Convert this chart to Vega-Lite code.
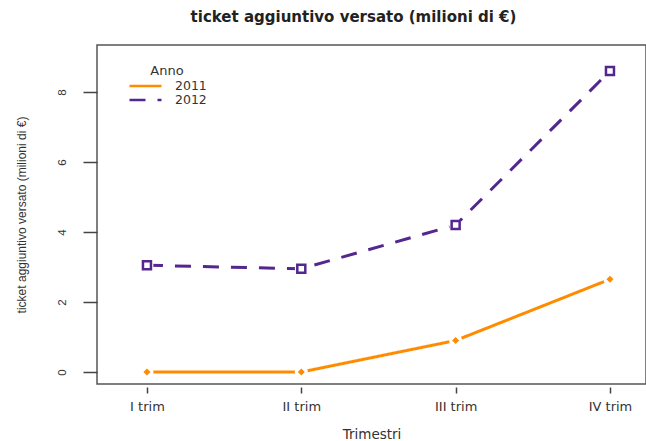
{
  "$schema": "https://vega.github.io/schema/vega-lite/v6.json",
  "width": 549,
  "height": 339,
  "autosize": {"type": "none"},
  "padding": {"left": 97, "top": 45, "right": 0, "bottom": 57},
  "background": "white",
  "title": {
    "text": "ticket aggiuntivo versato (milioni di €)",
    "anchor": "middle",
    "dx": -18,
    "offset": 20,
    "font": "DejaVu Sans",
    "fontSize": 15,
    "fontWeight": "bold",
    "color": "#222"
  },
  "config": {
    "view": {"stroke": "#555", "strokeWidth": 1.5},
    "font": "DejaVu Sans"
  },
  "data": {
    "values": [
      {"Trimestre": "I trim", "Anno": "2011", "valore": 0.0},
      {"Trimestre": "II trim", "Anno": "2011", "valore": 0.0},
      {"Trimestre": "III trim", "Anno": "2011", "valore": 0.9},
      {"Trimestre": "IV trim", "Anno": "2011", "valore": 2.65},
      {"Trimestre": "I trim", "Anno": "2012", "valore": 3.05},
      {"Trimestre": "II trim", "Anno": "2012", "valore": 2.95},
      {"Trimestre": "III trim", "Anno": "2012", "valore": 4.2},
      {"Trimestre": "IV trim", "Anno": "2012", "valore": 8.6}
    ]
  },
  "encoding": {
    "x": {
      "field": "Trimestre",
      "type": "nominal",
      "sort": ["I trim", "II trim", "III trim", "IV trim"],
      "scale": {"type": "point", "padding": 0.2786, "align": 0.581},
      "axis": {
        "title": "Trimestri",
        "labelAngle": 0,
        "domain": false,
        "offset": 3,
        "tickSize": 6,
        "tickColor": "#444",
        "tickWidth": 1.5,
        "labelFont": "DejaVu Sans",
        "labelFontSize": 13,
        "labelColor": "#333",
        "labelPadding": 7,
        "titleFont": "DejaVu Sans",
        "titleFontSize": 13.5,
        "titleFontWeight": "normal",
        "titleColor": "#333",
        "titlePadding": 14
      }
    },
    "y": {
      "field": "valore",
      "type": "quantitative",
      "scale": {"domain": [-0.343, 9.343], "nice": false, "zero": false},
      "axis": {
        "title": "ticket aggiuntivo versato (milioni di €)",
        "values": [0, 2, 4, 6, 8],
        "grid": false,
        "domain": false,
        "tickSize": 14,
        "tickColor": "#444",
        "tickWidth": 1.5,
        "labelAngle": -90,
        "labelAlign": "center",
        "labelBaseline": "bottom",
        "labelFont": "Liberation Sans",
        "labelFontSize": 11.5,
        "labelColor": "#333",
        "labelPadding": 16,
        "titleFont": "Liberation Sans",
        "titleFontSize": 12,
        "titleFontWeight": "normal",
        "titleColor": "#333",
        "titlePadding": 28
      }
    }
  },
  "layer": [
    {
      "mark": {"type": "line", "strokeWidth": 3},
      "encoding": {
        "color": {
          "field": "Anno",
          "type": "nominal",
          "scale": {"domain": ["2011", "2012"], "range": ["#FF8C00", "#54278F"]},
          "legend": {
            "orient": "none",
            "legendX": 31,
            "legendY": 20,
            "title": "Anno",
            "titleFont": "DejaVu Sans",
            "titleFontSize": 13,
            "titleFontWeight": "normal",
            "titleColor": "#333",
            "titleAnchor": "middle",
            "titlePadding": 1,
            "labelFont": "DejaVu Sans",
            "labelFontSize": 12.5,
            "labelColor": "#333",
            "labelOffset": 12,
            "symbolType": "stroke",
            "symbolSize": 1024,
            "symbolStrokeWidth": 2.5,
            "clipHeight": 14,
            "rowPadding": 0
          }
        },
        "strokeDash": {
          "field": "Anno",
          "type": "nominal",
          "scale": {"domain": ["2011", "2012"], "range": [[1, 0], [16, 12]]},
          "legend": {
            "orient": "none",
            "legendX": 31,
            "legendY": 20,
            "title": "Anno"
          }
        }
      }
    },
    {
      "mark": {"type": "point", "filled": true, "color": "white", "opacity": 1, "size": 170, "shape": "circle"}
    },
    {
      "transform": [{"filter": "datum.Anno == '2011'"}],
      "mark": {"type": "point", "filled": true, "color": "#FF8C00", "opacity": 1, "size": 50, "shape": "diamond"}
    },
    {
      "transform": [{"filter": "datum.Anno == '2012'"}],
      "mark": {"type": "point", "filled": false, "color": "#54278F", "opacity": 1, "size": 64, "shape": "square", "strokeWidth": 2.5}
    }
  ]
}
